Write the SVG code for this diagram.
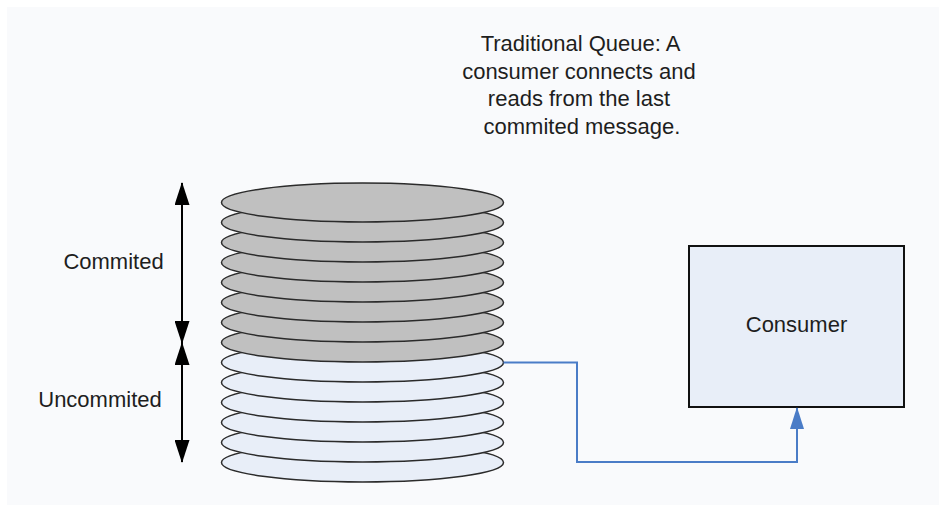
<svg xmlns="http://www.w3.org/2000/svg" width="939" height="505" viewBox="0 0 939 505">
  <style>
    .lbl { font-family: "Liberation Sans", Arial, sans-serif; font-size: 22px; fill: #1e1e1e; }
    .disk { stroke: #2b2b2b; stroke-width: 1.5; }
    .done { fill: #c0c0c0; }
    .open { fill: #e8eef8; }
    .dim { stroke: #000; stroke-width: 2; fill: none; }
    .flow { stroke: #4a7cc7; stroke-width: 2; fill: none; }
  </style>
  <defs>
    <marker id="dimHead" markerUnits="userSpaceOnUse" markerWidth="23" markerHeight="15" refX="22" refY="7.5" orient="auto" viewBox="0 0 23 15">
      <path d="M0,0 L23,7.5 L0,15 Z" fill="#000"/>
    </marker>
    <marker id="flowHead" markerUnits="userSpaceOnUse" markerWidth="22" markerHeight="14" refX="21" refY="7" orient="auto" viewBox="0 0 22 14">
      <path d="M0,0 L22,7 L0,14 Z" fill="#4a7cc7"/>
    </marker>
  </defs>

  <rect x="0" y="0" width="939" height="505" fill="#ffffff"/>
  <rect x="7" y="7" width="932" height="498" fill="#f9fafc"/>

  <!-- message stack, drawn from the bottom up -->
  <g id="queue">
    <ellipse class="disk open" cx="362.5" cy="462.5" rx="141" ry="19.5"/>
    <ellipse class="disk open" cx="362.5" cy="442.5" rx="141" ry="19.5"/>
    <ellipse class="disk open" cx="362.5" cy="422.5" rx="141" ry="19.5"/>
    <ellipse class="disk open" cx="362.5" cy="402.5" rx="141" ry="19.5"/>
    <ellipse class="disk open" cx="362.5" cy="382.5" rx="141" ry="19.5"/>
    <ellipse class="disk open" cx="362.5" cy="362.5" rx="141" ry="19.5"/>
    <ellipse class="disk done" cx="362.5" cy="342.5" rx="141" ry="19.5"/>
    <ellipse class="disk done" cx="362.5" cy="322.5" rx="141" ry="19.5"/>
    <ellipse class="disk done" cx="362.5" cy="302.5" rx="141" ry="19.5"/>
    <ellipse class="disk done" cx="362.5" cy="282.5" rx="141" ry="19.5"/>
    <ellipse class="disk done" cx="362.5" cy="262.5" rx="141" ry="19.5"/>
    <ellipse class="disk done" cx="362.5" cy="242.5" rx="141" ry="19.5"/>
    <ellipse class="disk done" cx="362.5" cy="222.5" rx="141" ry="19.5"/>
    <ellipse class="disk done" cx="362.5" cy="202.5" rx="141" ry="19.5"/>
  </g>

  <g id="consumer">
    <rect x="689" y="246" width="215" height="161" fill="#e8eef8" stroke="#111" stroke-width="2"/>
    <text class="lbl" x="796.5" y="332" text-anchor="middle">Consumer</text>
  </g>

  <g id="note">
    <text class="lbl" text-anchor="middle">
      <tspan x="583" y="51">Traditional Queue: A</tspan>
      <tspan x="582" y="79">consumer connects and</tspan>
      <tspan x="582" y="106">reads from the last</tspan>
      <tspan x="582" y="134">commited message.</tspan>
    </text>
  </g>

  <g id="committed-range">
    <line class="dim" x1="182" y1="263" x2="182" y2="183" marker-end="url(#dimHead)"/>
    <line class="dim" x1="182" y1="263" x2="182" y2="343" marker-end="url(#dimHead)"/>
    <text class="lbl" x="113.5" y="269" text-anchor="middle">Commited</text>
  </g>

  <g id="uncommitted-range">
    <line class="dim" x1="182" y1="402" x2="182" y2="343" marker-end="url(#dimHead)"/>
    <line class="dim" x1="182" y1="402" x2="182" y2="462" marker-end="url(#dimHead)"/>
    <text class="lbl" x="100" y="407" text-anchor="middle">Uncommited</text>
  </g>

  <g id="connectors">
    <path class="flow" d="M503.5,362.5 H577 V462 H797 V408" marker-end="url(#flowHead)"/>
  </g>
</svg>
